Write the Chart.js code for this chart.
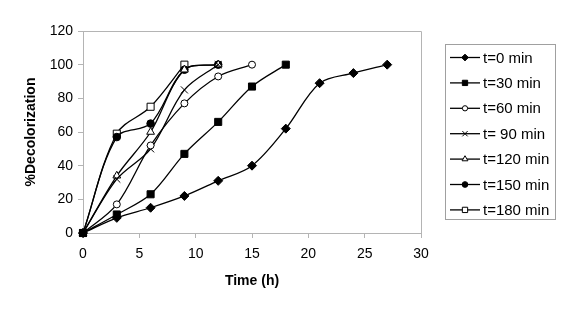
<!DOCTYPE html>
<html>
<head>
<meta charset="utf-8">
<script src="https://cdn.jsdelivr.net/npm/chart.js@4/dist/chart.umd.min.js"></script>
<style>
  html,body{margin:0;padding:0;background:#fff;}
  #wrap{width:568px;height:316px;}
</style>
</head>
<body>
<div id="wrap"><canvas id="chart" width="568" height="316"></canvas></div>
<script>
/* ================= DATEN ================= */
const HOURS = [0, 3, 6, 9, 12, 15, 18, 21, 24, 27];
const LABELS = ["t=0 min", "t=30 min", "t=60 min", "t= 90 min", "t=120 min", "t=150 min", "t=180 min"];
const T0   = [0, 9, 15, 22, 31, 40, 62, 89, 95, 100];
const T30  = [0, 11, 23, 47, 66, 87, 100];
const T60  = [0, 17, 52, 77, 93, 100];
const T90  = [0, 32, 50, 85, 100];
const T120 = [0, 34, 60, 97, 100];
const T150 = [0, 57, 65, 97, 100];
const T180 = [0, 59, 75, 100];
const X_TICKS = [0, 5, 10, 15, 20, 25, 30];
const Y_TICKS = [0, 20, 40, 60, 80, 100, 120];

const SERIES = [T0, T30, T60, T90, T120, T150, T180];
const MARKERS = [
  {style:'rectRot',  r:4.5, fill:'#000'},
  {style:'rect',     r:5,   fill:'#000'},
  {style:'circle',   r:3.5, fill:'#fff'},
  {style:'crossRot', r:5,   fill:'#fff'},
  {style:'triangle', r:4.5, fill:'#fff'},
  {style:'circle',   r:3.8, fill:'#000'},
  {style:'rect',     r:5,   fill:'#fff'}
];

const AXIS_GRAY = '#b4b4b4';
const FONT = "'Liberation Sans', Arial, sans-serif";

/* ================= LEGENDE ================= */
const boxLegend = {
  id:'boxLegend',
  afterDraw(chart){
    const ctx = chart.ctx;
    const x0 = 445.5, y0 = 44.5, w = 110, h = 175;
    ctx.save();
    ctx.strokeStyle = '#a0a0a0';
    ctx.lineWidth = 1;
    ctx.strokeRect(x0, y0, w, h);
    ctx.font = "15px " + FONT;
    ctx.textBaseline = 'middle';
    ctx.fillStyle = '#000';
    chart.data.datasets.forEach((ds, i) => {
      const y = 57.5 + i * 25.4;
      ctx.strokeStyle = '#000';
      ctx.lineWidth = 1.3;
      ctx.beginPath();
      ctx.moveTo(450, y);
      ctx.lineTo(480, y);
      ctx.stroke();
      ctx.fillStyle = ds.pointBackgroundColor;
      ctx.strokeStyle = '#000';
      ctx.lineWidth = 1;
      Chart.helpers.drawPoint(ctx, {pointStyle: ds.pointStyle, radius: ds.pointRadius * 0.75, borderWidth: 1}, 465, y);
      ctx.fillStyle = '#000';
      ctx.fillText(ds.label, 483, y + 1);
    });
    ctx.restore();
  }
};

/* ================= CHART ================= */
const datasets = SERIES.map((vals, i) => ({
  label: LABELS[i],
  data: vals.map((v, k) => ({x: HOURS[k], y: v})),
  showLine: true,
  borderColor: '#000',
  borderWidth: 1.3,
  tension: 0.33,
  pointStyle: MARKERS[i].style,
  pointRadius: MARKERS[i].r,
  pointBackgroundColor: MARKERS[i].fill,
  pointBorderColor: '#000',
  pointBorderWidth: 1,
  clip: false
}));

new Chart(document.getElementById('chart'), {
  type: 'scatter',
  data: {datasets},
  options: {
    responsive: false,
    animation: false,
    layout: {padding: {left: 0, right: 147, top: 31, bottom: 0}},
    plugins: {legend: {display: false}, tooltip: {enabled: false}},
    scales: {
      x: {
        type: 'linear', min: 0, max: 30,
        afterBuildTicks: s => { s.ticks = X_TICKS.map(v => ({value: v})); },
        afterFit: s => { s.height = 83; },
        border: {color: AXIS_GRAY, width: 1},
        grid: {display: true, drawOnChartArea: false, drawTicks: true, tickLength: 5, color: AXIS_GRAY},
        ticks: {color: '#000', font: {family: FONT, size: 14}, padding: 8, maxRotation: 0},
        title: {display: true, text: 'Time (h)', color: '#000', font: {family: FONT, size: 14, weight: 'bold'}, padding: {top: 10, bottom: 26}}
      },
      y: {
        type: 'linear', min: 0, max: 120,
        afterBuildTicks: s => { s.ticks = Y_TICKS.map(v => ({value: v})); },
        afterFit: s => { s.width = 83; },
        border: {color: AXIS_GRAY, width: 1},
        grid: {display: true, drawOnChartArea: false, drawTicks: true, tickLength: 5, color: AXIS_GRAY},
        ticks: {color: '#000', font: {family: FONT, size: 14}, padding: 5},
        title: {display: true, text: '%Decolorization', color: '#000', font: {family: FONT, size: 14, weight: 'bold'}, padding: {top: 23, bottom: 0}}
      }
    }
  },
  plugins: [boxLegend, {
    id: 'plotFrame',
    beforeDatasetsDraw(chart){
      const a = chart.chartArea, ctx = chart.ctx;
      ctx.save();
      ctx.strokeStyle = AXIS_GRAY;
      ctx.lineWidth = 1;
      ctx.beginPath();
      ctx.moveTo(Math.round(a.left) + 0.5, Math.round(a.top) + 0.5);
      ctx.lineTo(Math.round(a.right) + 0.5, Math.round(a.top) + 0.5);
      ctx.lineTo(Math.round(a.right) + 0.5, Math.round(a.bottom) + 0.5);
      ctx.stroke();
      ctx.restore();
    }
  }]
});
</script>
</body>
</html>
